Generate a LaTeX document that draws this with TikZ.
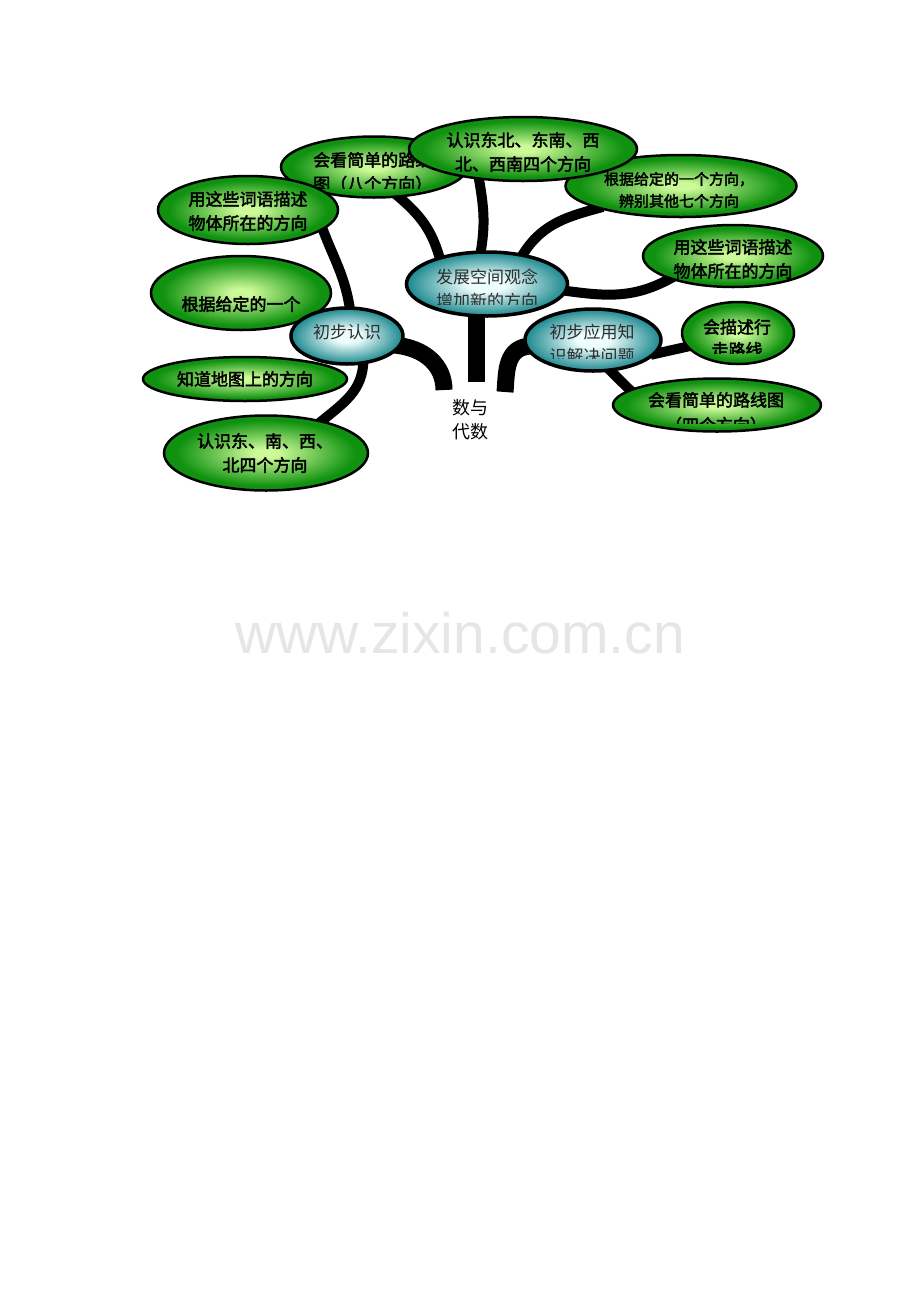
\documentclass[tikz,border=0pt]{standalone}
\usepackage{fontspec}
\newfontfamily\cjk{Noto Sans CJK SC}
\newfontfamily\cjkheavy[FakeBold=2.5]{Noto Sans CJK SC}
\setsansfont{Liberation Sans}
\usetikzlibrary{shapes.geometric,backgrounds}
\definecolor{leafout}{RGB}{16,146,16}
\definecolor{leafin}{RGB}{204,250,152}
\definecolor{hubout}{RGB}{26,136,142}
\definecolor{hubin}{RGB}{238,253,253}
\definecolor{hubink}{RGB}{45,45,45}
\definecolor{markgray}{RGB}{230,230,230}
\pgfdeclareradialshading{leafshade}{\pgfpointorigin}{%
  color(0bp)=(leafin); color(3bp)=(leafin); color(22bp)=(leafout); color(50bp)=(leafout)}
\pgfdeclareradialshading{hubshade}{\pgfpointorigin}{%
  color(0bp)=(hubin); color(6bp)=(hubin); color(25bp)=(hubout); color(50bp)=(hubout)}
\tikzset{
    % green leaf bubbles
    leaf/.style={
           ellipse,
           draw=black, line width=2.5pt,
           shade, shading=leafshade,
           inner sep=0pt},
    % teal bubbles in the middle
    hub/.style={
           ellipse,
           draw=black, line width=3.5pt,
           shade, shading=hubshade,
           inner sep=0pt},
    leaftext/.style={
           font=\cjkheavy\fontsize{17}{24}\selectfont,
           align=center, inner sep=0pt},
    hubtext/.style={
           font=\cjk\fontsize{17}{24}\selectfont,
           text=hubink, align=center, inner sep=0pt},
    % thick black branches
    branch/.style={
           line width=10pt,
           shorten <=-6pt,
           shorten >=-6pt},
    trunk/.style={
           line width=17pt,
           shorten >=-8pt}
}
\newcommand*{\bubble}[5]{\node[#1, minimum width=#4pt, minimum height=#5pt] (#2) at (#3) {};}

\begin{document}
\begin{tikzpicture}[x=1pt,y=-1pt]
\useasboundingbox (0,0) rectangle (920,1302);

% Upper leaves, back to front
\bubble{leaf}{leafRouteEight}{374,167}{186}{61}
\begin{scope}
  \clip (280,130) rectangle (470,188);
  \node[leaftext, align=left, anchor=west] (leafRouteEightT) at (313,172) {会看简单的路线\\图（八个方向）};
\end{scope}
\bubble{leaf}{leafDescL}{248,210}{180}{68}
\node[leaftext] (leafDescLT) at (248,211) {用这些词语描述\\物体所在的方向};
\bubble{leaf}{leafSeven}{681,186}{231}{62}
\node[leaftext, font=\cjkheavy\fontsize{15}{22}\selectfont] (leafSevenT) at (679,190) {根据给定的一个方向，\\辨别其他七个方向};
\bubble{leaf}{leafEightDir}{523,149}{228}{64}
\node[leaftext] (leafEightDirT) at (523,152) {认识东北、东南、西\\北、西南四个方向};
\bubble{leaf}{leafDescR}{733,256}{180}{62}
\node[leaftext] (leafDescRT) at (733,259) {用这些词语描述\\物体所在的方向};

% Left leaves
\bubble{leaf}{leafGiven}{241,293}{180}{74}
\node[leaftext] (leafGivenT) at (241,304) {根据给定的一个};
\bubble{leaf}{leafMap}{245,379}{204}{44}
\node[leaftext] (leafMapT) at (245,379) {知道地图上的方向};
\bubble{leaf}{leafFour}{266,453}{204}{75}
\node[leaftext] (leafFourT) at (265,453) {认识东、南、西、\\北四个方向};

% The three teal hubs
\bubble{hub}{hubRecog}{347,336}{112}{56}
\node[hubtext] (hubRecogT) at (347,332) {初步认识};
\bubble{hub}{hubSpace}{487,284}{161}{64}
\begin{scope}
  \clip (400,240) rectangle (580,304);
  \node[hubtext] (hubSpaceT) at (487,289) {发展空间观念\\增加新的方向};
\end{scope}
\bubble{hub}{hubApply}{593,340}{136}{62}
\begin{scope}
  \clip (520,300) rectangle (670,358);
  \node[hubtext] (hubApplyT) at (592,344) {初步应用知\\识解决问题};
\end{scope}

% Right leaves
\bubble{leaf}{leafWalk}{738,333}{112}{62}
\begin{scope}
  \clip (680,300) rectangle (800,353);
  \node[leaftext, font=\cjkheavy\fontsize{17}{23}\selectfont] (leafWalkT) at (737,338.5) {会描述行\\走路线};
\end{scope}
\bubble{leaf}{leafRouteFour}{717,405}{208}{53}
\begin{scope}
  \clip (610,370) rectangle (830,423);
  \node[leaftext, font=\cjkheavy\fontsize{17}{25}\selectfont] (leafRouteFourT) at (716,412.5) {会看简单的路线图\\（四个方向）};
\end{scope}

% Root of the tree
\node[font=\cjk\fontsize{18}{24}\selectfont, align=center, inner sep=0pt] (rootT) at (470,420) {数与\\代数};
\coordinate (trunkM) at (476,382);
\coordinate (trunkL) at (444,390);
\coordinate (trunkR) at (505,392);

\node[font=\sffamily\fontsize{57}{57}\selectfont, text=markgray] (markT) at (460,633) {www.zixin.com.cn};

% Branches go behind the bubbles
\begin{pgfonlayer}{background}
\fill[white] (0,0) rectangle (920,1302);
\draw[trunk] (trunkM) -- (trunkM |- hubSpace.south);
\draw[trunk] (trunkL) to[out=90,in=-5] (hubRecog.-10);
\draw[trunk] (trunkR) to[out=85,in=180] (hubApply.-175);

\draw[branch] (hubRecog.85) to[out=98,in=-70] (leafDescL.-15);
\draw[branch] (hubRecog.-60) to[out=-90,in=40] (leafFour.30);
\draw[branch] (hubSpace.150) to[out=105,in=-40] (leafRouteEight.-50);
\draw[branch] (hubSpace.100) to[out=80,in=-80] (leafEightDir.-145);
\draw[branch] (hubSpace.40) to[out=60,in=-165] (leafSeven.-165);
\draw[branch] (hubSpace.-5) to[out=-8,in=-150] (leafDescR.-160);
\draw[branch] (hubApply.-12) -- (leafWalk.-165);
\draw[branch] (hubApply.-60) -- (leafRouteFour.170);
\end{pgfonlayer}
\end{tikzpicture}
\end{document}
